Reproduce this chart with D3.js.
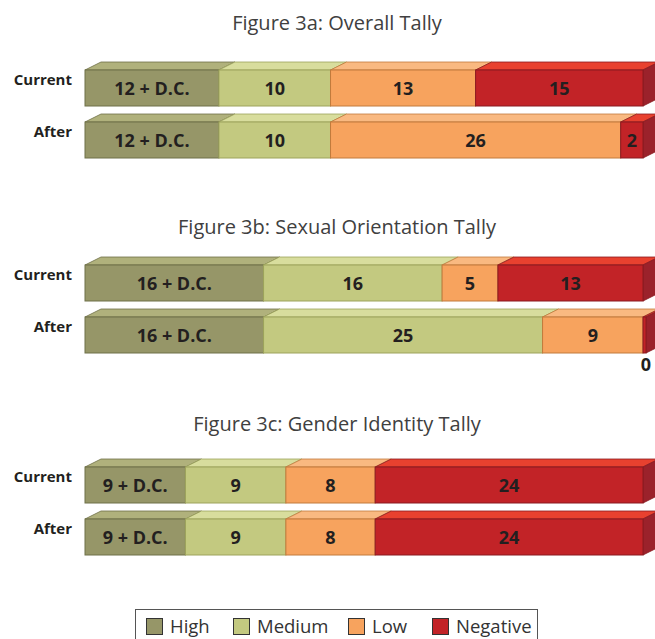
<!DOCTYPE html>
<html>
<head>
<meta charset="utf-8">
<script src="https://cdn.jsdelivr.net/npm/d3@7"></script>
<style>
  body { margin: 0; background: #fff; }
  svg { display: block; font-family: "Open Sans", "DejaVu Sans", sans-serif; }
</style>
</head>
<body>
<div id="chart"></div>
<script>
const width = 655;
const height = 639;

// data
const levels = ['High', 'Medium', 'Low', 'Negative'];
const rows = ['Current', 'After'];
const figureTitles = [
  'Figure 3a: Overall Tally',
  'Figure 3b: Sexual Orientation Tally',
  'Figure 3c: Gender Identity Tally'
];
const overallCurrent = [12, 10, 13, 15];
const overallAfter = [12, 10, 26, 2];
const sexualCurrent = [16, 16, 5, 13];
const sexualAfter = [16, 25, 9, 0];
const genderCurrent = [9, 9, 8, 24];
const genderAfter = [9, 9, 8, 24];
const highSuffix = ' + D.C.';

const panels = [
  { title: figureTitles[0], series: [overallCurrent, overallAfter] },
  { title: figureTitles[1], series: [sexualCurrent, sexualAfter] },
  { title: figureTitles[2], series: [genderCurrent, genderAfter] }
];

// layout
const panelTitleY = [30, 234, 431];
const panelBarY = [70, 265, 467];
const rowStep = 52;
const barH = 36;
const depthX = 16;
const depthY = 8;
const left = 85;
const right = 643;

const colors = {
  High: { front: '#969668', top: '#b0b17c', side: '#7c7d52', stroke: '#6e7048' },
  Medium: { front: '#c3c980', top: '#d8dd9d', side: '#a6ab66', stroke: '#9da35c' },
  Low: { front: '#f7a35e', top: '#f9b981', side: '#d9843f', stroke: '#c27a3c' },
  Negative: { front: '#c22327', top: '#e8412f', side: '#9b222b', stroke: '#8a1a20' }
};

const svg = d3.select('#chart')
  .append('svg')
  .attr('width', width)
  .attr('height', height);

const x = d3.scaleLinear().range([left, right]);

panels.forEach((panel, p) => {
  svg.append('text')
    .attr('x', 337)
    .attr('y', panelTitleY[p])
    .attr('text-anchor', 'middle')
    .style('font-size', '20px')
    .style('fill', '#404040')
    .text(panel.title);

  panel.series.forEach((vals, r) => {
    const y0 = panelBarY[p] + r * rowStep;
    x.domain([0, d3.sum(vals)]);

    let acc = 0;
    const segs = vals.map((v, i) => {
      const s = { key: levels[i], value: v, x0: x(acc), x1: Math.max(x(acc + v), x(acc) + 3) };
      acc += v;
      return s;
    });

    const g = svg.append('g');

    // top faces
    g.selectAll('path.top')
      .data(segs)
      .enter()
      .append('path')
      .attr('class', 'top')
      .attr('d', d => `M${d.x0},${y0} L${d.x0 + depthX},${y0 - depthY} L${d.x1 + depthX},${y0 - depthY} L${d.x1},${y0} Z`)
      .attr('fill', d => colors[d.key].top)
      .attr('stroke', d => colors[d.key].stroke)
      .attr('stroke-width', 0.8);

    // side face of last segment
    const last = segs[segs.length - 1];
    g.append('path')
      .attr('d', `M${last.x1},${y0} L${last.x1 + depthX},${y0 - depthY} L${last.x1 + depthX},${y0 + barH - depthY} L${last.x1},${y0 + barH} Z`)
      .attr('fill', colors[last.key].side)
      .attr('stroke', colors[last.key].stroke)
      .attr('stroke-width', 0.8);

    // front faces
    g.selectAll('rect')
      .data(segs)
      .enter()
      .append('rect')
      .attr('x', d => d.x0)
      .attr('y', y0)
      .attr('width', d => d.x1 - d.x0)
      .attr('height', barH)
      .attr('fill', d => colors[d.key].front)
      .attr('stroke', d => colors[d.key].stroke)
      .attr('stroke-width', 1);

    // value labels
    g.selectAll('text.val')
      .data(segs)
      .enter()
      .append('text')
      .attr('class', 'val')
      .attr('x', d => d.value === 0 ? d.x1 : (d.x0 + d.x1) / 2)
      .attr('y', d => d.value === 0 ? y0 + barH + 18 : y0 + barH / 2 + 6.5)
      .attr('text-anchor', 'middle')
      .style('font-size', '18px')
      .style('font-weight', 'bold')
      .style('fill', '#231f20')
      .text(d => d.key === 'High' ? d.value + highSuffix : d.value);

    // row label
    svg.append('text')
      .attr('x', 72)
      .attr('y', y0 + 15)
      .attr('text-anchor', 'end')
      .style('font-size', '15px')
      .style('font-weight', 'bold')
      .style('fill', '#231f20')
      .text(rows[r]);
  });
});

// legend
const legend = svg.append('g');
legend.append('rect')
  .attr('x', 135.5)
  .attr('y', 609.5)
  .attr('width', 402)
  .attr('height', 40)
  .attr('fill', 'none')
  .attr('stroke', '#555')
  .attr('stroke-width', 1);

const legendX = [146, 233, 348, 432];
levels.forEach((lv, i) => {
  legend.append('rect')
    .attr('x', legendX[i] + 0.5)
    .attr('y', 618.5)
    .attr('width', 16)
    .attr('height', 16)
    .attr('fill', colors[lv].front)
    .attr('stroke', '#333')
    .attr('stroke-width', 1);
  legend.append('text')
    .attr('x', legendX[i] + 24)
    .attr('y', 633)
    .style('font-size', '18.5px')
    .style('fill', '#333')
    .text(lv);
});
</script>
</body>
</html>
